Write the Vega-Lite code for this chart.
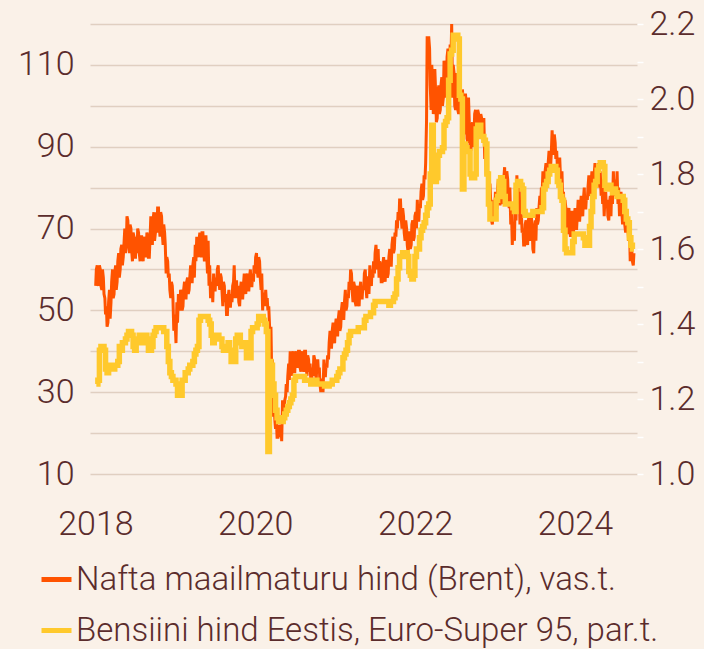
{
  "$schema": "https://vega.github.io/schema/vega-lite/v6.json",
  "width": 547,
  "height": 450,
  "autosize": {"type": "none"},
  "padding": {"left": 90, "top": 24, "right": 67, "bottom": 175},
  "background": "#faf1e8",
  "config": {
    "font": "Roboto",
    "view": {"stroke": null},
    "axis": {"labelFont": "Roboto", "labelFontWeight": 300, "labelColor": "#5b2c2c", "labelFontSize": 34, "title": null}
  },
  "data": {"values": [
{"d":"2018-01-05","b":60,"p":1.24},{"d":"2018-01-12","b":57,"p":1.25},{"d":"2018-01-19","b":61,"p":1.33},{"d":"2018-01-26","b":56,"p":1.34},{"d":"2018-02-02","b":60,"p":1.34},{"d":"2018-02-09","b":54,"p":1.33},{"d":"2018-02-16","b":49,"p":1.28},{"d":"2018-02-23","b":46,"p":1.27},{"d":"2018-03-02","b":52,"p":1.28},{"d":"2018-03-09","b":48,"p":1.29},{"d":"2018-03-16","b":57,"p":1.29},{"d":"2018-03-23","b":53,"p":1.28},{"d":"2018-03-30","b":59,"p":1.29},{"d":"2018-04-06","b":55,"p":1.29},{"d":"2018-04-13","b":62,"p":1.30},{"d":"2018-04-20","b":58,"p":1.34},{"d":"2018-04-27","b":65,"p":1.33},{"d":"2018-05-04","b":61,"p":1.35},{"d":"2018-05-11","b":66,"p":1.35},{"d":"2018-05-18","b":64,"p":1.36},{"d":"2018-05-25","b":73,"p":1.37},{"d":"2018-06-01","b":67,"p":1.38},{"d":"2018-06-08","b":71,"p":1.38},{"d":"2018-06-15","b":65,"p":1.37},{"d":"2018-06-22","b":69,"p":1.34},{"d":"2018-06-29","b":63,"p":1.33},{"d":"2018-07-06","b":68,"p":1.35},{"d":"2018-07-13","b":70,"p":1.36},{"d":"2018-07-20","b":64,"p":1.37},{"d":"2018-07-27","b":68,"p":1.37},{"d":"2018-08-03","b":63,"p":1.35},{"d":"2018-08-10","b":67,"p":1.36},{"d":"2018-08-17","b":64,"p":1.37},{"d":"2018-08-24","b":69,"p":1.36},{"d":"2018-08-31","b":63,"p":1.33},{"d":"2018-09-07","b":67,"p":1.33},{"d":"2018-09-14","b":68,"p":1.34},{"d":"2018-09-21","b":72,"p":1.37},{"d":"2018-09-28","b":67,"p":1.38},{"d":"2018-10-05","b":74,"p":1.39},{"d":"2018-10-12","b":75,"p":1.39},{"d":"2018-10-19","b":71,"p":1.39},{"d":"2018-10-26","b":74,"p":1.39},{"d":"2018-11-02","b":69,"p":1.39},{"d":"2018-11-09","b":71,"p":1.38},{"d":"2018-11-16","b":66,"p":1.38},{"d":"2018-11-23","b":63,"p":1.34},{"d":"2018-11-30","b":58,"p":1.30},{"d":"2018-12-07","b":55,"p":1.27},{"d":"2018-12-14","b":57,"p":1.26},{"d":"2018-12-21","b":53,"p":1.25},{"d":"2018-12-28","b":49,"p":1.25},
{"d":"2019-01-04","b":42,"p":1.24},{"d":"2019-01-11","b":47,"p":1.21},{"d":"2019-01-18","b":51,"p":1.21},{"d":"2019-01-25","b":55,"p":1.21},{"d":"2019-02-01","b":50,"p":1.25},{"d":"2019-02-08","b":55,"p":1.25},{"d":"2019-02-15","b":53,"p":1.27},{"d":"2019-02-22","b":57,"p":1.27},{"d":"2019-03-01","b":54,"p":1.28},{"d":"2019-03-08","b":58,"p":1.29},{"d":"2019-03-15","b":57,"p":1.29},{"d":"2019-03-22","b":61,"p":1.30},{"d":"2019-03-29","b":58,"p":1.32},{"d":"2019-04-05","b":62,"p":1.33},{"d":"2019-04-12","b":64,"p":1.34},{"d":"2019-04-19","b":67,"p":1.41},{"d":"2019-04-26","b":64,"p":1.42},{"d":"2019-05-03","b":69,"p":1.42},{"d":"2019-05-10","b":65,"p":1.42},{"d":"2019-05-17","b":68,"p":1.42},{"d":"2019-05-24","b":64,"p":1.42},{"d":"2019-05-31","b":67,"p":1.41},{"d":"2019-06-07","b":61,"p":1.40},{"d":"2019-06-14","b":56,"p":1.37},{"d":"2019-06-21","b":52,"p":1.35},{"d":"2019-06-28","b":55,"p":1.36},{"d":"2019-07-05","b":58,"p":1.36},{"d":"2019-07-12","b":60,"p":1.37},{"d":"2019-07-19","b":57,"p":1.36},{"d":"2019-07-26","b":59,"p":1.36},{"d":"2019-08-02","b":55,"p":1.34},{"d":"2019-08-09","b":57,"p":1.33},{"d":"2019-08-16","b":52,"p":1.34},{"d":"2019-08-23","b":49,"p":1.33},{"d":"2019-08-30","b":53,"p":1.35},{"d":"2019-09-06","b":51,"p":1.33},{"d":"2019-09-13","b":54,"p":1.30},{"d":"2019-09-20","b":56,"p":1.30},{"d":"2019-09-27","b":61,"p":1.30},{"d":"2019-10-04","b":57,"p":1.36},{"d":"2019-10-11","b":53,"p":1.37},{"d":"2019-10-18","b":52,"p":1.37},{"d":"2019-10-25","b":55,"p":1.35},{"d":"2019-11-01","b":53,"p":1.34},{"d":"2019-11-08","b":56,"p":1.34},{"d":"2019-11-15","b":55,"p":1.35},{"d":"2019-11-22","b":58,"p":1.31},{"d":"2019-11-29","b":55,"p":1.31},{"d":"2019-12-06","b":58,"p":1.31},{"d":"2019-12-13","b":56,"p":1.38},{"d":"2019-12-20","b":59,"p":1.39},{"d":"2019-12-27","b":61,"p":1.39},
{"d":"2020-01-03","b":63,"p":1.39},{"d":"2020-01-10","b":60,"p":1.40},{"d":"2020-01-17","b":63,"p":1.42},{"d":"2020-01-24","b":58,"p":1.42},{"d":"2020-01-31","b":59,"p":1.42},{"d":"2020-02-07","b":54,"p":1.41},{"d":"2020-02-14","b":51,"p":1.40},{"d":"2020-02-21","b":52,"p":1.38},{"d":"2020-02-28","b":50,"p":1.06},{"d":"2020-03-06","b":47,"p":1.30},{"d":"2020-03-13","b":46,"p":1.29},{"d":"2020-03-20","b":38,"p":1.24},{"d":"2020-03-27","b":28,"p":1.21},{"d":"2020-04-03","b":21,"p":1.17},{"d":"2020-04-10","b":19,"p":1.15},{"d":"2020-04-17","b":22,"p":1.14},{"d":"2020-04-24","b":19,"p":1.14},{"d":"2020-05-01","b":18,"p":1.14},{"d":"2020-05-08","b":25,"p":1.15},{"d":"2020-05-15","b":28,"p":1.16},{"d":"2020-05-22","b":32,"p":1.17},{"d":"2020-05-29","b":34,"p":1.18},{"d":"2020-06-05","b":33,"p":1.19},{"d":"2020-06-12","b":36,"p":1.20},{"d":"2020-06-19","b":39,"p":1.21},{"d":"2020-06-26","b":35,"p":1.25},{"d":"2020-07-03","b":39,"p":1.26},{"d":"2020-07-10","b":37,"p":1.26},{"d":"2020-07-17","b":40,"p":1.26},{"d":"2020-07-24","b":36,"p":1.26},{"d":"2020-07-31","b":39,"p":1.26},{"d":"2020-08-07","b":37,"p":1.26},{"d":"2020-08-14","b":40,"p":1.25},{"d":"2020-08-21","b":36,"p":1.25},{"d":"2020-08-28","b":39,"p":1.25},{"d":"2020-09-04","b":35,"p":1.25},{"d":"2020-09-11","b":33,"p":1.24},{"d":"2020-09-18","b":36,"p":1.25},{"d":"2020-09-25","b":39,"p":1.25},{"d":"2020-10-02","b":35,"p":1.25},{"d":"2020-10-09","b":37,"p":1.24},{"d":"2020-10-16","b":35,"p":1.24},{"d":"2020-10-23","b":32,"p":1.24},{"d":"2020-10-30","b":33,"p":1.24},{"d":"2020-11-06","b":30,"p":1.24},{"d":"2020-11-13","b":34,"p":1.235},{"d":"2020-11-20","b":37,"p":1.235},{"d":"2020-11-27","b":39,"p":1.235},{"d":"2020-12-04","b":42,"p":1.24},{"d":"2020-12-11","b":41,"p":1.24},{"d":"2020-12-18","b":45,"p":1.25},{"d":"2020-12-25","b":43,"p":1.25},
{"d":"2021-01-01","b":46,"p":1.25},{"d":"2021-01-08","b":44,"p":1.26},{"d":"2021-01-15","b":48,"p":1.27},{"d":"2021-01-22","b":45,"p":1.28},{"d":"2021-01-29","b":50,"p":1.28},{"d":"2021-02-05","b":48,"p":1.31},{"d":"2021-02-12","b":52,"p":1.32},{"d":"2021-02-19","b":50,"p":1.33},{"d":"2021-02-26","b":54,"p":1.35},{"d":"2021-03-05","b":57,"p":1.37},{"d":"2021-03-12","b":60,"p":1.38},{"d":"2021-03-19","b":55,"p":1.38},{"d":"2021-03-26","b":57,"p":1.38},{"d":"2021-04-02","b":52,"p":1.38},{"d":"2021-04-09","b":55,"p":1.38},{"d":"2021-04-16","b":52,"p":1.39},{"d":"2021-04-23","b":55,"p":1.39},{"d":"2021-04-30","b":53,"p":1.39},{"d":"2021-05-07","b":56,"p":1.39},{"d":"2021-05-14","b":59,"p":1.41},{"d":"2021-05-21","b":56,"p":1.42},{"d":"2021-05-28","b":58,"p":1.42},{"d":"2021-06-04","b":54,"p":1.42},{"d":"2021-06-11","b":57,"p":1.43},{"d":"2021-06-18","b":60,"p":1.43},{"d":"2021-06-25","b":62,"p":1.45},{"d":"2021-07-02","b":64,"p":1.46},{"d":"2021-07-09","b":63,"p":1.46},{"d":"2021-07-16","b":65,"p":1.46},{"d":"2021-07-23","b":62,"p":1.46},{"d":"2021-07-30","b":57,"p":1.46},{"d":"2021-08-06","b":61,"p":1.46},{"d":"2021-08-13","b":59,"p":1.46},{"d":"2021-08-20","b":62,"p":1.46},{"d":"2021-08-27","b":58,"p":1.46},{"d":"2021-09-03","b":63,"p":1.45},{"d":"2021-09-10","b":61,"p":1.46},{"d":"2021-09-17","b":66,"p":1.46},{"d":"2021-09-24","b":64,"p":1.47},{"d":"2021-10-01","b":69,"p":1.48},{"d":"2021-10-08","b":72,"p":1.52},{"d":"2021-10-15","b":74,"p":1.55},{"d":"2021-10-22","b":77,"p":1.58},{"d":"2021-10-29","b":73,"p":1.58},{"d":"2021-11-05","b":75,"p":1.59},{"d":"2021-11-12","b":69,"p":1.59},{"d":"2021-11-19","b":72,"p":1.59},{"d":"2021-11-26","b":66,"p":1.58},{"d":"2021-12-03","b":69,"p":1.54},{"d":"2021-12-10","b":65,"p":1.53},{"d":"2021-12-17","b":71,"p":1.52},{"d":"2021-12-24","b":67,"p":1.53},{"d":"2021-12-31","b":73,"p":1.58},
{"d":"2022-01-07","b":70,"p":1.60},{"d":"2022-01-14","b":72,"p":1.60},{"d":"2022-01-21","b":76,"p":1.63},{"d":"2022-01-28","b":79,"p":1.65},{"d":"2022-02-04","b":77,"p":1.66},{"d":"2022-02-11","b":83,"p":1.67},{"d":"2022-02-18","b":86,"p":1.69},{"d":"2022-02-25","b":117,"p":1.71},{"d":"2022-03-04","b":117,"p":1.72},{"d":"2022-03-11","b":105,"p":1.80},{"d":"2022-03-18","b":110,"p":1.93},{"d":"2022-03-25","b":98,"p":1.79},{"d":"2022-04-01","b":109,"p":1.78},{"d":"2022-04-08","b":96,"p":1.79},{"d":"2022-04-15","b":103,"p":1.85},{"d":"2022-04-22","b":98,"p":1.86},{"d":"2022-04-29","b":105,"p":1.86},{"d":"2022-05-06","b":100,"p":1.87},{"d":"2022-05-13","b":111,"p":1.93},{"d":"2022-05-20","b":102,"p":1.94},{"d":"2022-05-27","b":112,"p":1.95},{"d":"2022-06-03","b":106,"p":2.05},{"d":"2022-06-10","b":115,"p":2.12},{"d":"2022-06-17","b":120,"p":2.13},{"d":"2022-06-24","b":110,"p":2.17},{"d":"2022-07-01","b":100,"p":2.17},{"d":"2022-07-08","b":108,"p":2.17},{"d":"2022-07-15","b":99,"p":2.16},{"d":"2022-07-22","b":106,"p":2.01},{"d":"2022-07-29","b":99,"p":2.00},{"d":"2022-08-05","b":104,"p":1.76},{"d":"2022-08-12","b":95,"p":1.88},{"d":"2022-08-19","b":103,"p":1.87},{"d":"2022-08-26","b":92,"p":1.86},{"d":"2022-09-02","b":102,"p":1.86},{"d":"2022-09-09","b":90,"p":1.80},{"d":"2022-09-16","b":94,"p":1.79},{"d":"2022-09-23","b":90,"p":1.79},{"d":"2022-09-30","b":98,"p":1.80},{"d":"2022-10-07","b":94,"p":1.92},{"d":"2022-10-14","b":99,"p":1.93},{"d":"2022-10-21","b":94,"p":1.93},{"d":"2022-10-28","b":98,"p":1.90},{"d":"2022-11-04","b":94,"p":1.90},{"d":"2022-11-11","b":97,"p":1.89},{"d":"2022-11-18","b":92,"p":1.88},{"d":"2022-11-25","b":88,"p":1.80},{"d":"2022-12-02","b":84,"p":1.72},{"d":"2022-12-09","b":81,"p":1.68},{"d":"2022-12-16","b":72,"p":1.68},{"d":"2022-12-23","b":74,"p":1.68},{"d":"2022-12-30","b":72,"p":1.68},
{"d":"2023-01-06","b":75,"p":1.73},{"d":"2023-01-13","b":80,"p":1.74},{"d":"2023-01-20","b":76,"p":1.78},{"d":"2023-01-27","b":82,"p":1.79},{"d":"2023-02-03","b":77,"p":1.78},{"d":"2023-02-10","b":82,"p":1.74},{"d":"2023-02-17","b":78,"p":1.72},{"d":"2023-02-24","b":84,"p":1.72},{"d":"2023-03-03","b":77,"p":1.72},{"d":"2023-03-10","b":80,"p":1.72},{"d":"2023-03-17","b":75,"p":1.72},{"d":"2023-03-24","b":70,"p":1.71},{"d":"2023-03-31","b":67,"p":1.70},{"d":"2023-04-07","b":72,"p":1.77},{"d":"2023-04-14","b":79,"p":1.78},{"d":"2023-04-21","b":82,"p":1.78},{"d":"2023-04-28","b":74,"p":1.77},{"d":"2023-05-05","b":69,"p":1.76},{"d":"2023-05-12","b":66,"p":1.70},{"d":"2023-05-19","b":71,"p":1.69},{"d":"2023-05-26","b":67,"p":1.69},{"d":"2023-06-02","b":72,"p":1.69},{"d":"2023-06-09","b":69,"p":1.69},{"d":"2023-06-16","b":73,"p":1.69},{"d":"2023-06-23","b":65,"p":1.70},{"d":"2023-06-30","b":70,"p":1.70},{"d":"2023-07-07","b":67,"p":1.70},{"d":"2023-07-14","b":71,"p":1.70},{"d":"2023-07-21","b":75,"p":1.70},{"d":"2023-07-28","b":74,"p":1.70},{"d":"2023-08-04","b":78,"p":1.71},{"d":"2023-08-11","b":79,"p":1.76},{"d":"2023-08-18","b":84,"p":1.77},{"d":"2023-08-25","b":81,"p":1.78},{"d":"2023-09-01","b":86,"p":1.80},{"d":"2023-09-08","b":84,"p":1.81},{"d":"2023-09-15","b":88,"p":1.82},{"d":"2023-09-22","b":90,"p":1.82},{"d":"2023-09-29","b":93,"p":1.82},{"d":"2023-10-06","b":87,"p":1.81},{"d":"2023-10-13","b":85,"p":1.78},{"d":"2023-10-20","b":87,"p":1.77},{"d":"2023-10-27","b":83,"p":1.74},{"d":"2023-11-03","b":84,"p":1.73},{"d":"2023-11-10","b":79,"p":1.65},{"d":"2023-11-17","b":77,"p":1.60},{"d":"2023-11-24","b":69,"p":1.59},{"d":"2023-12-01","b":74,"p":1.59},{"d":"2023-12-08","b":70,"p":1.59},{"d":"2023-12-15","b":74,"p":1.59},{"d":"2023-12-22","b":68,"p":1.62},{"d":"2023-12-29","b":73,"p":1.64},
{"d":"2024-01-05","b":70,"p":1.64},{"d":"2024-01-12","b":73,"p":1.64},{"d":"2024-01-19","b":72,"p":1.64},{"d":"2024-01-26","b":75,"p":1.64},{"d":"2024-02-02","b":74,"p":1.64},{"d":"2024-02-09","b":77,"p":1.63},{"d":"2024-02-16","b":75,"p":1.61},{"d":"2024-02-23","b":78,"p":1.61},{"d":"2024-03-01","b":80,"p":1.61},{"d":"2024-03-08","b":79,"p":1.66},{"d":"2024-03-15","b":81,"p":1.70},{"d":"2024-03-22","b":79,"p":1.74},{"d":"2024-03-29","b":83,"p":1.77},{"d":"2024-04-05","b":82,"p":1.78},{"d":"2024-04-12","b":85,"p":1.81},{"d":"2024-04-19","b":86,"p":1.82},{"d":"2024-04-26","b":84,"p":1.83},{"d":"2024-05-03","b":82,"p":1.83},{"d":"2024-05-10","b":80,"p":1.82},{"d":"2024-05-17","b":77,"p":1.77},{"d":"2024-05-24","b":75,"p":1.76},{"d":"2024-05-31","b":73,"p":1.76},{"d":"2024-06-07","b":76,"p":1.77},{"d":"2024-06-14","b":73,"p":1.76},{"d":"2024-06-21","b":76,"p":1.75},{"d":"2024-06-28","b":79,"p":1.76},{"d":"2024-07-05","b":82,"p":1.75},{"d":"2024-07-12","b":84,"p":1.74},{"d":"2024-07-19","b":80,"p":1.74},{"d":"2024-07-26","b":78,"p":1.74},{"d":"2024-08-02","b":75,"p":1.74},{"d":"2024-08-09","b":77,"p":1.73},{"d":"2024-08-16","b":71,"p":1.70},{"d":"2024-08-23","b":73,"p":1.68},{"d":"2024-08-30","b":70,"p":1.67},{"d":"2024-09-06","b":72,"p":1.63},{"d":"2024-09-13","b":66,"p":1.61},{"d":"2024-09-20","b":62,"p":1.60},{"d":"2024-09-27","b":64,"p":1.60},
{"d":"2018-01-02","b":56},{"d":"2018-01-09","b":61},{"d":"2018-01-16","b":56},{"d":"2018-01-23","b":60},{"d":"2018-01-30","b":55},{"d":"2018-02-06","b":58},{"d":"2018-02-13","b":53},{"d":"2018-02-20","b":51},{"d":"2018-02-27","b":47},{"d":"2018-03-06","b":55},{"d":"2018-03-13","b":52},{"d":"2018-03-20","b":60},{"d":"2018-03-27","b":54},{"d":"2018-04-03","b":61},{"d":"2018-04-10","b":57},{"d":"2018-04-17","b":64},{"d":"2018-04-24","b":60},{"d":"2018-05-01","b":66},{"d":"2018-05-08","b":63},{"d":"2018-05-15","b":70},{"d":"2018-05-22","b":66},{"d":"2018-05-29","b":72},{"d":"2018-06-05","b":64},{"d":"2018-06-12","b":70},{"d":"2018-06-19","b":62},{"d":"2018-06-26","b":68},{"d":"2018-07-03","b":63},{"d":"2018-07-10","b":64},{"d":"2018-07-17","b":69},{"d":"2018-07-24","b":62},{"d":"2018-07-31","b":68},{"d":"2018-08-07","b":62},{"d":"2018-08-14","b":68},{"d":"2018-08-21","b":63},{"d":"2018-08-28","b":68},{"d":"2018-09-04","b":63},{"d":"2018-09-11","b":73},{"d":"2018-09-18","b":66},{"d":"2018-09-25","b":74},{"d":"2018-10-02","b":69},{"d":"2018-10-09","b":69},{"d":"2018-10-16","b":75},{"d":"2018-10-23","b":68},{"d":"2018-10-30","b":73},{"d":"2018-11-06","b":66},{"d":"2018-11-13","b":69},{"d":"2018-11-20","b":59},{"d":"2018-11-27","b":62},{"d":"2018-12-04","b":59},{"d":"2018-12-11","b":53},{"d":"2018-12-18","b":56},{"d":"2018-12-25","b":45},
{"d":"2019-01-01","b":46},{"d":"2019-01-08","b":52},{"d":"2019-01-15","b":54},{"d":"2019-01-22","b":50},{"d":"2019-01-29","b":54},{"d":"2019-02-05","b":51},{"d":"2019-02-12","b":57},{"d":"2019-02-19","b":53},{"d":"2019-02-26","b":58},{"d":"2019-03-05","b":55},{"d":"2019-03-12","b":61},{"d":"2019-03-19","b":57},{"d":"2019-03-26","b":63},{"d":"2019-04-02","b":66},{"d":"2019-04-09","b":68},{"d":"2019-04-16","b":63},{"d":"2019-04-23","b":69},{"d":"2019-04-30","b":63},{"d":"2019-05-07","b":69},{"d":"2019-05-14","b":62},{"d":"2019-05-21","b":68},{"d":"2019-05-28","b":59},{"d":"2019-06-04","b":56},{"d":"2019-06-11","b":53},{"d":"2019-06-18","b":57},{"d":"2019-06-25","b":59},{"d":"2019-07-02","b":55},{"d":"2019-07-09","b":56},{"d":"2019-07-16","b":61},{"d":"2019-07-23","b":55},{"d":"2019-07-30","b":58},{"d":"2019-08-06","b":51},{"d":"2019-08-13","b":56},{"d":"2019-08-20","b":54},{"d":"2019-08-27","b":49},{"d":"2019-09-03","b":55},{"d":"2019-09-10","b":51},{"d":"2019-09-17","b":52},{"d":"2019-09-24","b":57},{"d":"2019-10-01","b":53},{"d":"2019-10-08","b":57},{"d":"2019-10-15","b":56},{"d":"2019-10-22","b":51},{"d":"2019-10-29","b":57},{"d":"2019-11-05","b":53},{"d":"2019-11-12","b":59},{"d":"2019-11-19","b":54},{"d":"2019-11-26","b":59},{"d":"2019-12-03","b":55},{"d":"2019-12-10","b":60},{"d":"2019-12-17","b":56},{"d":"2019-12-24","b":57},{"d":"2019-12-31","b":59},
{"d":"2020-01-07","b":64},{"d":"2020-01-14","b":58},{"d":"2020-01-21","b":62},{"d":"2020-01-28","b":55},{"d":"2020-02-04","b":50},{"d":"2020-02-11","b":54},{"d":"2020-02-18","b":55},{"d":"2020-02-25","b":53},{"d":"2020-03-03","b":51},{"d":"2020-03-10","b":42},{"d":"2020-03-17","b":33},{"d":"2020-03-24","b":24},{"d":"2020-03-31","b":23},{"d":"2020-04-07","b":23},{"d":"2020-04-14","b":19},{"d":"2020-04-21","b":21},{"d":"2020-04-28","b":22},{"d":"2020-05-05","b":28},{"d":"2020-05-12","b":26},{"d":"2020-05-19","b":29},{"d":"2020-05-26","b":30},{"d":"2020-06-02","b":37},{"d":"2020-06-09","b":40},{"d":"2020-06-16","b":34},{"d":"2020-06-23","b":40},{"d":"2020-06-30","b":35},{"d":"2020-07-07","b":40},{"d":"2020-07-14","b":36},{"d":"2020-07-21","b":40},{"d":"2020-07-28","b":35},{"d":"2020-08-04","b":40},{"d":"2020-08-11","b":35},{"d":"2020-08-18","b":40},{"d":"2020-08-25","b":34},{"d":"2020-09-01","b":38},{"d":"2020-09-08","b":37},{"d":"2020-09-15","b":32},{"d":"2020-09-22","b":34},{"d":"2020-09-29","b":38},{"d":"2020-10-06","b":33},{"d":"2020-10-13","b":38},{"d":"2020-10-20","b":36},{"d":"2020-10-27","b":30},{"d":"2020-11-03","b":33},{"d":"2020-11-10","b":38},{"d":"2020-11-17","b":34},{"d":"2020-11-24","b":36},{"d":"2020-12-01","b":38},{"d":"2020-12-08","b":45},{"d":"2020-12-15","b":41},{"d":"2020-12-22","b":47},{"d":"2020-12-29","b":42},
{"d":"2021-01-05","b":48},{"d":"2021-01-12","b":44},{"d":"2021-01-19","b":50},{"d":"2021-01-26","b":46},{"d":"2021-02-02","b":52},{"d":"2021-02-09","b":48},{"d":"2021-02-16","b":55},{"d":"2021-02-23","b":51},{"d":"2021-03-02","b":53},{"d":"2021-03-09","b":55},{"d":"2021-03-16","b":59},{"d":"2021-03-23","b":52},{"d":"2021-03-30","b":56},{"d":"2021-04-06","b":51},{"d":"2021-04-13","b":56},{"d":"2021-04-20","b":51},{"d":"2021-04-27","b":57},{"d":"2021-05-04","b":53},{"d":"2021-05-11","b":55},{"d":"2021-05-18","b":60},{"d":"2021-05-25","b":53},{"d":"2021-06-01","b":58},{"d":"2021-06-08","b":61},{"d":"2021-06-15","b":56},{"d":"2021-06-22","b":58},{"d":"2021-06-29","b":59},{"d":"2021-07-06","b":66},{"d":"2021-07-13","b":60},{"d":"2021-07-20","b":58},{"d":"2021-07-27","b":61},{"d":"2021-08-03","b":57},{"d":"2021-08-10","b":63},{"d":"2021-08-17","b":57},{"d":"2021-08-24","b":62},{"d":"2021-08-31","b":59},{"d":"2021-09-07","b":65},{"d":"2021-09-14","b":61},{"d":"2021-09-21","b":68},{"d":"2021-09-28","b":65},{"d":"2021-10-05","b":68},{"d":"2021-10-12","b":70},{"d":"2021-10-19","b":72},{"d":"2021-10-26","b":77},{"d":"2021-11-02","b":70},{"d":"2021-11-09","b":73},{"d":"2021-11-16","b":67},{"d":"2021-11-23","b":70},{"d":"2021-11-30","b":64},{"d":"2021-12-07","b":69},{"d":"2021-12-14","b":66},{"d":"2021-12-21","b":72},{"d":"2021-12-28","b":68},
{"d":"2022-01-04","b":74},{"d":"2022-01-11","b":77},{"d":"2022-01-18","b":72},{"d":"2022-01-25","b":75},{"d":"2022-02-01","b":81},{"d":"2022-02-08","b":78},{"d":"2022-02-15","b":82},{"d":"2022-02-22","b":96},{"d":"2022-03-01","b":112},{"d":"2022-03-08","b":114},{"d":"2022-03-15","b":99},{"d":"2022-03-22","b":106},{"d":"2022-03-29","b":99},{"d":"2022-04-05","b":103},{"d":"2022-04-12","b":97},{"d":"2022-04-19","b":105},{"d":"2022-04-26","b":99},{"d":"2022-05-03","b":107},{"d":"2022-05-10","b":102},{"d":"2022-05-17","b":110},{"d":"2022-05-24","b":104},{"d":"2022-05-31","b":114},{"d":"2022-06-07","b":108},{"d":"2022-06-14","b":112},{"d":"2022-06-21","b":102},{"d":"2022-06-28","b":108},{"d":"2022-07-05","b":99},{"d":"2022-07-12","b":105},{"d":"2022-07-19","b":98},{"d":"2022-07-26","b":104},{"d":"2022-08-02","b":97},{"d":"2022-08-09","b":101},{"d":"2022-08-16","b":93},{"d":"2022-08-23","b":100},{"d":"2022-08-30","b":91},{"d":"2022-09-06","b":95},{"d":"2022-09-13","b":89},{"d":"2022-09-20","b":96},{"d":"2022-09-27","b":92},{"d":"2022-10-04","b":99},{"d":"2022-10-11","b":93},{"d":"2022-10-18","b":98},{"d":"2022-10-25","b":93},{"d":"2022-11-01","b":97},{"d":"2022-11-08","b":92},{"d":"2022-11-15","b":87},{"d":"2022-11-22","b":83},{"d":"2022-11-29","b":80},{"d":"2022-12-06","b":75},{"d":"2022-12-13","b":76},{"d":"2022-12-20","b":71},{"d":"2022-12-27","b":77},
{"d":"2023-01-03","b":79},{"d":"2023-01-10","b":75},{"d":"2023-01-17","b":82},{"d":"2023-01-24","b":76},{"d":"2023-01-31","b":83},{"d":"2023-02-07","b":76},{"d":"2023-02-14","b":85},{"d":"2023-02-21","b":77},{"d":"2023-02-28","b":82},{"d":"2023-03-07","b":75},{"d":"2023-03-14","b":71},{"d":"2023-03-21","b":66},{"d":"2023-03-28","b":71},{"d":"2023-04-04","b":80},{"d":"2023-04-11","b":83},{"d":"2023-04-18","b":76},{"d":"2023-04-25","b":71},{"d":"2023-05-02","b":73},{"d":"2023-05-09","b":70},{"d":"2023-05-16","b":66},{"d":"2023-05-23","b":72},{"d":"2023-05-30","b":66},{"d":"2023-06-06","b":73},{"d":"2023-06-13","b":67},{"d":"2023-06-20","b":70},{"d":"2023-06-27","b":64},{"d":"2023-07-04","b":72},{"d":"2023-07-11","b":75},{"d":"2023-07-18","b":72},{"d":"2023-07-25","b":78},{"d":"2023-08-01","b":80},{"d":"2023-08-08","b":84},{"d":"2023-08-15","b":80},{"d":"2023-08-22","b":86},{"d":"2023-08-29","b":82},{"d":"2023-09-05","b":89},{"d":"2023-09-12","b":85},{"d":"2023-09-19","b":94},{"d":"2023-09-26","b":88},{"d":"2023-10-03","b":91},{"d":"2023-10-10","b":89},{"d":"2023-10-17","b":82},{"d":"2023-10-24","b":87},{"d":"2023-10-31","b":79},{"d":"2023-11-07","b":76},{"d":"2023-11-14","b":72},{"d":"2023-11-21","b":75},{"d":"2023-11-28","b":69},{"d":"2023-12-05","b":75},{"d":"2023-12-12","b":68},{"d":"2023-12-19","b":74},{"d":"2023-12-26","b":69},
{"d":"2024-01-02","b":75},{"d":"2024-01-09","b":70},{"d":"2024-01-16","b":77},{"d":"2024-01-23","b":72},{"d":"2024-01-30","b":78},{"d":"2024-02-06","b":73},{"d":"2024-02-13","b":80},{"d":"2024-02-20","b":75},{"d":"2024-02-27","b":77},{"d":"2024-03-05","b":83},{"d":"2024-03-12","b":78},{"d":"2024-03-19","b":84},{"d":"2024-03-26","b":80},{"d":"2024-04-02","b":86},{"d":"2024-04-09","b":81},{"d":"2024-04-16","b":82},{"d":"2024-04-23","b":80},{"d":"2024-04-30","b":78},{"d":"2024-05-07","b":76},{"d":"2024-05-14","b":73},{"d":"2024-05-21","b":79},{"d":"2024-05-28","b":77},{"d":"2024-06-04","b":72},{"d":"2024-06-11","b":78},{"d":"2024-06-18","b":81},{"d":"2024-06-25","b":84},{"d":"2024-07-02","b":78},{"d":"2024-07-09","b":79},{"d":"2024-07-16","b":76},{"d":"2024-07-23","b":73},{"d":"2024-07-30","b":79},{"d":"2024-08-06","b":71},{"d":"2024-08-13","b":75},{"d":"2024-08-20","b":69},{"d":"2024-08-27","b":74},{"d":"2024-09-03","b":67},{"d":"2024-09-10","b":62},{"d":"2024-09-17","b":65},{"d":"2024-09-24","b":61}
  ]},
  "encoding": {
    "x": {
      "field": "d", "type": "temporal",
      "scale": {"type": "utc", "domain": [{"year": 2017, "month": 12, "date": 7, "utc": true}, {"year": 2024, "month": 10, "date": 11, "utc": true}]},
      "axis": {
        "values": [{"year": 2018, "utc": true}, {"year": 2020, "utc": true}, {"year": 2022, "utc": true}, {"year": 2024, "utc": true}],
        "format": "%Y", "grid": false, "domain": false, "ticks": false, "labelPadding": 33, "labelFlush": false
      }
    }
  },
  "layer": [
    {
      "mark": {"type": "line", "strokeWidth": 3, "strokeJoin": "miter"},
      "encoding": {
        "y": {
          "field": "b", "type": "quantitative",
          "scale": {"domain": [10, 120], "nice": false, "zero": false},
          "axis": {
            "orient": "left", "values": [10, 20, 30, 40, 50, 60, 70, 80, 90, 100, 110, 120],
            "labelExpr": "(datum.value - 10) % 20 == 0 ? datum.label : ''",
            "grid": true, "gridColor": "#e0cfc1", "gridWidth": 1.5, "domain": false, "ticks": false, "labelPadding": 16
          }
        },
        "color": {
          "datum": "Nafta maailmaturu hind (Brent), vas.t.",
          "scale": {"domain": ["Nafta maailmaturu hind (Brent), vas.t.", "Bensiini hind Eestis, Euro-Super 95, par.t."], "range": ["#ff5300", "#ffc92c"]},
          "legend": {
            "orient": "none", "legendX": -51, "legendY": 538, "direction": "vertical", "title": null,
            "symbolType": "stroke", "symbolSize": 900, "symbolStrokeWidth": 5,
            "labelFont": "Roboto", "labelFontWeight": 300, "labelFontSize": 33, "labelColor": "#5b2c2c",
            "labelLimit": 800, "rowPadding": 16, "labelOffset": 2
          }
        }
      }
    },
    {
      "transform": [{"filter": "isValid(datum.p)"}],
      "mark": {"type": "line", "strokeWidth": 5.5, "interpolate": "step-after"},
      "encoding": {
        "y": {
          "field": "p", "type": "quantitative",
          "scale": {"domain": [1.0, 2.2], "nice": false, "zero": false},
          "axis": {
            "orient": "right", "values": [1.0, 1.1, 1.2, 1.3, 1.4, 1.5, 1.6, 1.7, 1.8, 1.9, 2.0, 2.1, 2.2],
            "labelExpr": "round(datum.value * 10) % 2 == 0 ? format(datum.value, '.1f') : ''",
            "grid": false, "domain": false, "ticks": true, "tickColor": "#ffffff", "tickSize": 6, "tickWidth": 1.5, "labelPadding": 6
          }
        },
        "color": {"datum": "Bensiini hind Eestis, Euro-Super 95, par.t."}
      }
    }
  ],
  "resolve": {"scale": {"y": "independent"}}
}
